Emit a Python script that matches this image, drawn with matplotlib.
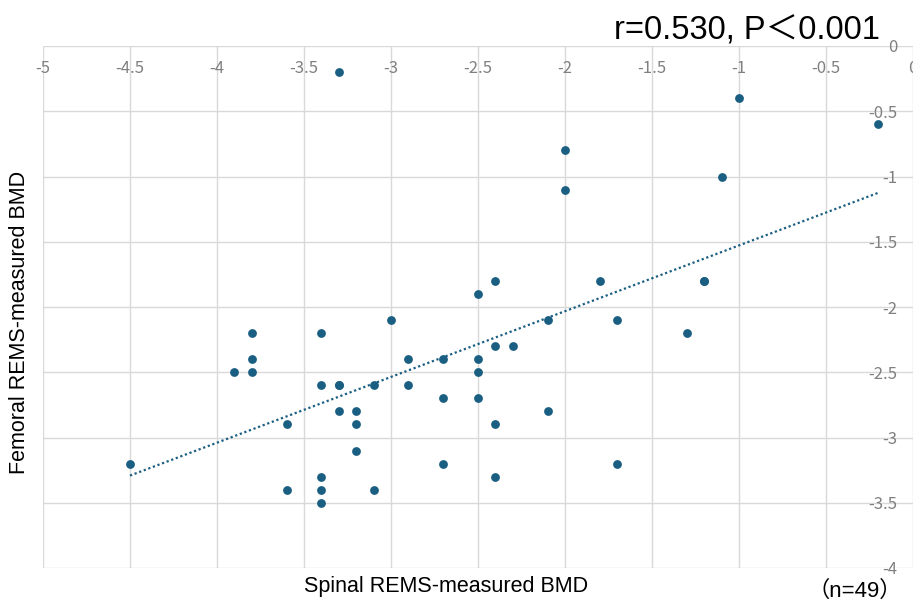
import numpy as np
import matplotlib
matplotlib.use("Agg")
import matplotlib.pyplot as plt

# Data (Spinal vs Femoral REMS-measured BMD)
spinal = [-3.3, -1.0, -0.2, -2.0, -2.0, -1.1, -2.5, -2.4, -1.8, -1.2, -1.2,
          -3.8, -3.4, -3.0, -3.8, -3.9, -3.8, -2.9, -2.7, -3.4, -3.3, -3.3,
          -3.1, -2.9, -2.7, -3.3, -3.2, -3.6, -3.2, -3.2, -4.5, -2.7, -3.4,
          -3.6, -3.4, -3.1, -3.4,
          -2.1, -1.7, -1.3, -2.4, -2.3, -2.5, -2.5, -2.5, -2.1, -2.4, -1.7, -2.4]
femoral = [-0.2, -0.4, -0.6, -0.8, -1.1, -1.0, -1.9, -1.8, -1.8, -1.8, -1.8,
           -2.2, -2.2, -2.1, -2.4, -2.5, -2.5, -2.4, -2.4, -2.6, -2.6, -2.6,
           -2.6, -2.6, -2.7, -2.8, -2.8, -2.9, -2.9, -3.1, -3.2, -3.2, -3.3,
           -3.4, -3.4, -3.4, -3.5,
           -2.1, -2.1, -2.2, -2.3, -2.3, -2.4, -2.5, -2.7, -2.8, -2.9, -3.2, -3.3]
x_ticks = [-5, -4.5, -4, -3.5, -3, -2.5, -2, -1.5, -1, -0.5, 0]
y_ticks = [0, -0.5, -1, -1.5, -2, -2.5, -3, -3.5, -4]
title_text = "r=0.530, P\uff1c0.001"
n_text = "\uff08n=49\uff09"
xlabel = "Spinal REMS-measured BMD"
ylabel = "Femoral REMS-measured BMD"

color = "#1a5e82"
W, H = 913, 602
fig = plt.figure(figsize=(W / 100, H / 100), dpi=100)
ax = fig.add_axes([43 / W, (H - 568) / H, 870 / W, 522 / H])

ax.set_xlim(-5, 0)
ax.set_ylim(-4, 0)
ax.set_xticks(x_ticks)
ax.set_yticks(y_ticks)
ax.set_xticklabels([f"{v:g}" for v in x_ticks])
ax.set_yticklabels([f"{v:g}" for v in y_ticks])
ax.grid(True, color="#d9d9d9", linewidth=1.0)
ax.set_axisbelow(True)
for s in ax.spines.values():
    s.set_visible(False)

tick_font = ["Noto Sans CJK JP", "DejaVu Sans"]
ax.tick_params(axis="x", top=True, labeltop=True, bottom=False, labelbottom=False,
               length=0, pad=-22, labelsize=12, labelcolor="#808080")
ax.tick_params(axis="y", right=True, labelright=True, left=False, labelleft=False,
               length=0, pad=-11, labelsize=12, labelcolor="#808080")
for lab in ax.get_xticklabels():
    lab.set_family(tick_font)
for lab in ax.get_yticklabels():
    lab.set_family(tick_font)
    lab.set_horizontalalignment("right")

xs = np.array(spinal)
ys = np.array(femoral)
ax.scatter(xs, ys, s=40, color=color, zorder=3, linewidths=0)

# linear trendline
m, b = np.polyfit(xs, ys, 1)
xl = np.array([xs.min(), xs.max()])
ax.plot(xl, m * xl + b, linestyle=(0, (1, 1.2)), color=color, linewidth=1.6, zorder=2)

lab_font = ["Liberation Sans", "Noto Sans CJK JP"]
fig.text(880 / W, 1 - 39 / H, title_text, ha="right", va="baseline",
         fontsize=23.5, family=lab_font, color="black")
fig.text(446 / W, 1 - 592 / H, xlabel, ha="center", va="baseline",
         fontsize=15.5, family=lab_font)
fig.text(20 / W, 1 - 322 / H, ylabel, ha="center", va="center", rotation=90,
         fontsize=15.5, family=lab_font)
fig.text(902 / W, 1 - 597 / H, n_text, ha="right", va="baseline",
         fontsize=16, family=lab_font)

fig.savefig("out.png", dpi=100)
